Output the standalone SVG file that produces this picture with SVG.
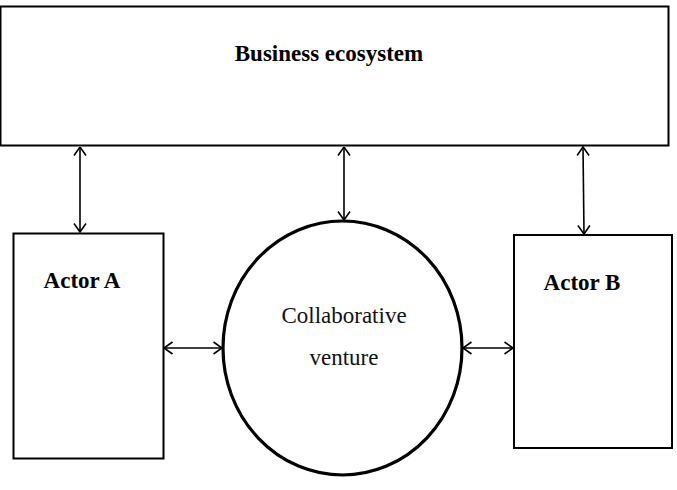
<svg xmlns="http://www.w3.org/2000/svg" width="677" height="490" viewBox="0 0 677 490">
<style>
.box{fill:#fff;stroke:#000;stroke-width:2}
.conn{stroke:#000;stroke-width:1.6;fill:none;marker-start:url(#ah);marker-end:url(#ah)}
.lb{font-family:"Liberation Serif","Times New Roman",serif;font-weight:bold;font-size:23px;text-anchor:middle;fill:#000}
.tx{font-family:"Liberation Serif","Times New Roman",serif;font-size:23px;text-anchor:middle;fill:#111}
</style>
<defs>
<marker id="ah" viewBox="0 0 10 14" refX="9.5" refY="7" markerWidth="10" markerHeight="14" markerUnits="userSpaceOnUse" orient="auto-start-reverse">
<path d="M1,1 L9.5,7 L1,13" fill="none" stroke="#000" stroke-width="1.6"/>
</marker>
</defs>
<rect width="677" height="490" fill="#fff"/>
<g id="business-ecosystem">
<rect class="box" x="0.5" y="6.5" width="668" height="139"/>
<text class="lb" x="329" y="61">Business ecosystem</text>
</g>
<g id="actor-a">
<rect class="box" x="13.5" y="233.5" width="150" height="225"/>
<text class="lb" x="82" y="288">Actor A</text>
</g>
<g id="collaborative-venture">
<ellipse cx="342.5" cy="348" rx="119.5" ry="127" fill="#fff" stroke="#000" stroke-width="3.2"/>
<text class="tx" x="344" y="323">Collaborative</text>
<text class="tx" x="344" y="365">venture</text>
</g>
<g id="actor-b">
<rect class="box" x="514" y="235" width="158" height="213" stroke-width="2.6"/>
<text class="lb" x="582" y="290">Actor B</text>
</g>
<g id="connectors">
<line class="conn" x1="80" y1="147" x2="80" y2="232"/>
<line class="conn" x1="344" y1="147" x2="344" y2="220"/>
<line class="conn" x1="583" y1="147" x2="584" y2="234"/>
<line class="conn" x1="164" y1="348" x2="222" y2="348"/>
<line class="conn" x1="463" y1="348" x2="513" y2="348"/>
</g>
</svg>
